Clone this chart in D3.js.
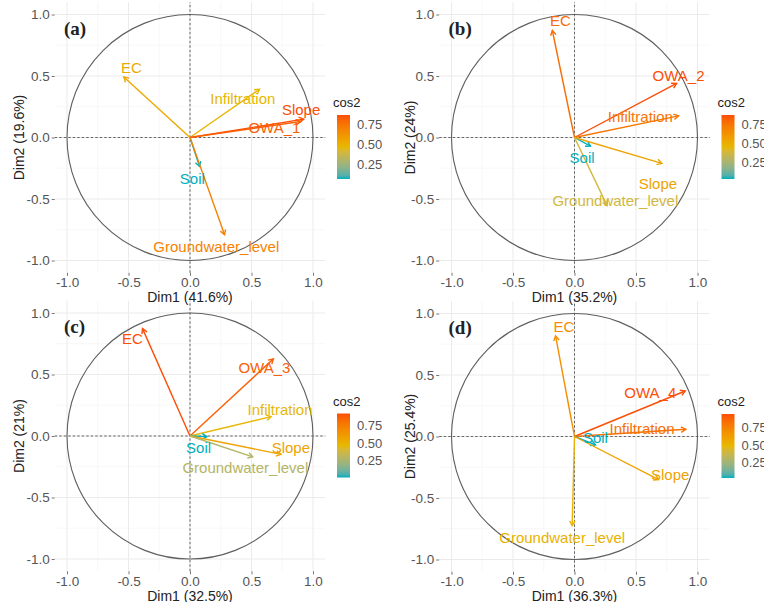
<!DOCTYPE html>
<html><head><meta charset="utf-8">
<script src="https://cdn.jsdelivr.net/npm/d3@7"></script>
<style>body{margin:0;background:#fff}svg{display:block}</style>
</head><body>
<svg id="chart" width="764" height="602"></svg>
<script>
// ---------- data ----------
const panelTags = ["(a)", "(b)", "(c)", "(d)"];
const dim1Labels = ["Dim1 (41.6%)", "Dim1 (35.2%)", "Dim1 (32.5%)", "Dim1 (36.3%)"];
const dim2Labels = ["Dim2 (19.6%)", "Dim2 (24%)", "Dim2 (21%)", "Dim2 (25.4%)"];
const axisTicks = [-1.0, -0.5, 0.0, 0.5, 1.0];
const legendTicks = [0.25, 0.50, 0.75];
const gradientCols = ["#00AFBB", "#E7B800", "#FC4E07"];

const varsA = ["EC", "Infiltration", "Slope", "OWA_1", "Soil", "Groundwater_level"];
const dim1A = [-0.538, 0.565, 0.924, 0.900, 0.078, 0.281];
const dim2A = [0.492, 0.392, 0.149, 0.130, -0.235, -0.790];
const labXA = [-0.476, 0.430, 0.903, 0.686, 0.019, 0.214];
const labYA = [0.568, 0.316, 0.222, 0.076, -0.338, -0.892];

const varsB = ["EC", "OWA_2", "Infiltration", "Soil", "Slope", "Groundwater_level"];
const dim1B = [-0.180, 0.830, 0.846, 0.130, 0.710, 0.265];
const dim2B = [0.870, 0.440, 0.176, -0.070, -0.210, -0.554];
const labXB = [-0.114, 0.846, 0.535, 0.062, 0.678, 0.332];
const labYB = [0.946, 0.500, 0.168, -0.162, -0.373, -0.514];

const varsC = ["EC", "OWA_3", "Infiltration", "Soil", "Slope", "Groundwater_level"];
const dim1C = [-0.386, 0.678, 0.660, 0.138, 0.740, 0.510];
const dim2C = [0.873, 0.627, 0.157, -0.005, -0.149, -0.170];
const labXC = [-0.468, 0.605, 0.732, 0.070, 0.820, 0.450];
const labYC = [0.792, 0.554, 0.216, -0.095, -0.095, -0.257];

const varsD = ["EC", "OWA_4", "Infiltration", "Soil", "Slope", "Groundwater_level"];
const dim1D = [-0.154, 0.900, 0.905, 0.170, 0.684, -0.019];
const dim2D = [0.819, 0.370, 0.059, -0.068, -0.351, -0.724];
const labXD = [-0.086, 0.616, 0.549, 0.170, 0.778, -0.100];
const labYD = [0.892, 0.359, 0.059, -0.008, -0.311, -0.824];

const panels = [
  {tag: panelTags[0], xl: dim1Labels[0], yl: dim2Labels[0], names: varsA, d1: dim1A, d2: dim2A, lx: labXA, ly: labYA},
  {tag: panelTags[1], xl: dim1Labels[1], yl: dim2Labels[1], names: varsB, d1: dim1B, d2: dim2B, lx: labXB, ly: labYB},
  {tag: panelTags[2], xl: dim1Labels[2], yl: dim2Labels[2], names: varsC, d1: dim1C, d2: dim2C, lx: labXC, ly: labYC},
  {tag: panelTags[3], xl: dim1Labels[3], yl: dim2Labels[3], names: varsD, d1: dim1D, d2: dim2D, lx: labXD, ly: labYD}
];

// ---------- layout ----------
const centers = [[190, 137.5], [574.5, 137.5], [190, 436], [574.5, 436.5]];
const yTitleOffset = [171, 164.5, 171, 164.5];
const unit = 123;
const lim = 1.1;
const FONT = "'Liberation Sans', Arial, Helvetica, sans-serif";

const svg = d3.select("#chart");

panels.forEach((p, i) => {
  const [cx, cy] = centers[i];
  const x = d3.scaleLinear().domain([-lim, lim]).range([cx - lim * unit, cx + lim * unit]);
  const y = d3.scaleLinear().domain([-lim, lim]).range([cy + lim * unit, cy - lim * unit]);
  const g = svg.append("g");

  // cos2 and colour scale
  const cos2 = p.d1.map((v, j) => v * v + p.d2[j] * p.d2[j]);
  const [cmin, cmax] = d3.extent(cos2);
  const col = d3.scaleLinear().domain([cmin, (cmin + cmax) / 2, cmax]).range(gradientCols).interpolate(d3.interpolateLab);

  // grid
  const minor = [-0.75, -0.25, 0.25, 0.75];
  const grid = g.append("g");
  minor.forEach(v => {
    grid.append("line").attr("x1", x(v)).attr("x2", x(v)).attr("y1", y(-lim)).attr("y2", y(lim)).attr("stroke", "#f3f3f3").attr("stroke-width", 0.6);
    grid.append("line").attr("y1", y(v)).attr("y2", y(v)).attr("x1", x(-lim)).attr("x2", x(lim)).attr("stroke", "#f3f3f3").attr("stroke-width", 0.6);
  });
  axisTicks.forEach(v => {
    grid.append("line").attr("x1", x(v)).attr("x2", x(v)).attr("y1", y(-lim)).attr("y2", y(lim)).attr("stroke", "#ebebeb").attr("stroke-width", 1);
    grid.append("line").attr("y1", y(v)).attr("y2", y(v)).attr("x1", x(-lim)).attr("x2", x(lim)).attr("stroke", "#ebebeb").attr("stroke-width", 1);
  });

  // axes
  const fmt = d => d.toFixed(1);
  const xa = g.append("g").attr("transform", `translate(0,${y(-lim)})`)
    .call(d3.axisBottom(x).tickValues(axisTicks).tickFormat(fmt).tickSize(3).tickPadding(2));
  const ya = g.append("g").attr("transform", `translate(${x(-lim)},0)`)
    .call(d3.axisLeft(y).tickValues(axisTicks).tickFormat(fmt).tickSize(3).tickPadding(2));
  [xa, ya].forEach(a => {
    a.select(".domain").remove();
    a.selectAll(".tick line").attr("stroke", "#777");
    a.selectAll(".tick text").attr("fill", "#555").attr("font-size", 13.5).attr("font-family", FONT);
  });

  // zero lines
  g.append("line").attr("x1", x(-lim)).attr("x2", x(lim)).attr("y1", y(0)).attr("y2", y(0))
    .attr("stroke", "#666").attr("stroke-width", 1).attr("stroke-dasharray", "2.5,2");
  g.append("line").attr("x1", x(0)).attr("x2", x(0)).attr("y1", y(-lim)).attr("y2", y(lim))
    .attr("stroke", "#666").attr("stroke-width", 1).attr("stroke-dasharray", "2.5,2");

  // correlation circle
  g.append("circle").attr("cx", x(0)).attr("cy", y(0)).attr("r", x(1) - x(0))
    .attr("fill", "none").attr("stroke", "#5f5f5f").attr("stroke-width", 1.1);

  // arrows
  p.names.forEach((n, j) => {
    const x1 = x(p.d1[j]), y1 = y(p.d2[j]), x0 = x(0), y0 = y(0);
    const c = col(cos2[j]);
    g.append("line").attr("x1", x0).attr("y1", y0).attr("x2", x1).attr("y2", y1)
      .attr("stroke", c).attr("stroke-width", 1.4);
    const ang = Math.atan2(y1 - y0, x1 - x0), L = 5.5, A = Math.PI / 6;
    const pts = [[x1 - L * Math.cos(ang - A), y1 - L * Math.sin(ang - A)], [x1, y1], [x1 - L * Math.cos(ang + A), y1 - L * Math.sin(ang + A)]];
    g.append("path").attr("d", d3.line()(pts)).attr("fill", "none").attr("stroke", c).attr("stroke-width", 1.4);
  });
  // labels
  p.names.forEach((n, j) => {
    g.append("text").attr("x", x(p.lx[j])).attr("y", y(p.ly[j])).attr("dy", "0.35em")
      .attr("text-anchor", "middle").attr("font-family", FONT).attr("font-size", 15)
      .attr("fill", col(cos2[j])).text(n);
  });

  // panel tag
  g.append("text").attr("x", cx - 126).attr("y", cy - 103)
    .attr("font-family", "'Liberation Serif', 'Times New Roman', serif").attr("font-weight", "bold")
    .attr("font-size", 19).attr("fill", "#222").text(p.tag);

  // axis titles
  g.append("text").attr("x", cx).attr("y", cy + 164.5).attr("text-anchor", "middle")
    .attr("font-family", FONT).attr("font-size", 14).attr("fill", "#222").text(p.xl);
  g.append("text").attr("transform", `translate(${cx - yTitleOffset[i] + 5},${cy}) rotate(-90)`)
    .attr("text-anchor", "middle").attr("font-family", FONT).attr("font-size", 14).attr("fill", "#222").text(p.yl);

  // legend
  const barX = cx + 147, barTop = cy - 22.5, barH = 64, barW = 13;
  const gid = "grad" + i;
  const grad = svg.append("defs").append("linearGradient").attr("id", gid)
    .attr("x1", 0).attr("x2", 0).attr("y1", 1).attr("y2", 0);
  d3.range(0, 21).forEach(k => {
    const t = k / 20;
    grad.append("stop").attr("offset", t).attr("stop-color", col(cmin + t * (cmax - cmin)));
  });
  g.append("rect").attr("x", barX).attr("y", barTop).attr("width", barW).attr("height", barH).attr("fill", `url(#${gid})`);
  const ls = d3.scaleLinear().domain([cmin, cmax]).range([barTop + barH, barTop]);
  legendTicks.forEach(v => {
    g.append("text").attr("x", barX + barW + 7).attr("y", ls(v)).attr("dy", "0.35em")
      .attr("font-family", FONT).attr("font-size", 13).attr("fill", "#555").text(v.toFixed(2));
  });
  g.append("text").attr("x", barX - 4).attr("y", barTop - 8)
    .attr("font-family", FONT).attr("font-size", 13).attr("fill", "#222").text("cos2");
});
</script>
</body></html>
